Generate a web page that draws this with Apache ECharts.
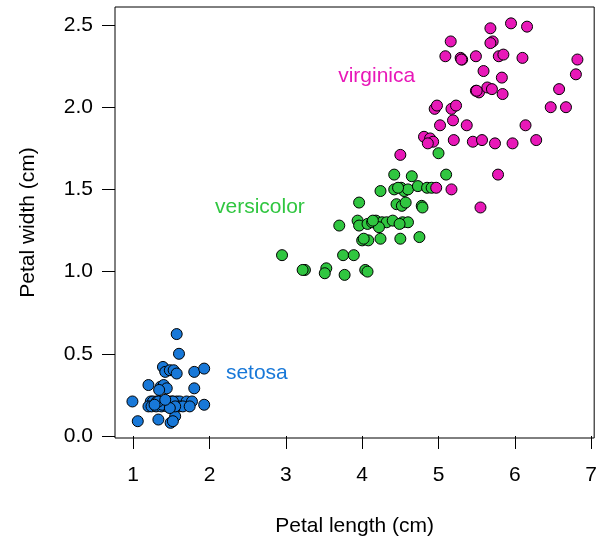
<!DOCTYPE html>
<html>
<head>
<meta charset="utf-8">
<title>Iris petal dimensions</title>
<script src="https://cdn.jsdelivr.net/npm/echarts@6/dist/echarts.min.js"></script>
<style>
  html, body { margin: 0; padding: 0; background: #fff; }
  #chart { width: 600px; height: 543px; }
</style>
</head>
<body>
<div id="chart"></div>
<script>
// Petal length / width (cm), jittered so that repeated measurements stay visible
const setosaLength = [1.57, 1.60, 1.39, 1.42, 1.48, 1.53, 1.57, 1.80, 1.93, 1.20, 1.36, 1.40, 1.44, 1.34, 1.80, 0.99,
  1.23, 1.26, 1.31, 1.36, 1.41, 1.47, 1.51, 1.57, 1.61, 1.70, 1.77,
  1.20, 1.24, 1.30, 1.37, 1.44, 1.50, 1.60, 1.65, 1.74,
  1.93, 1.06, 1.33, 1.55, 1.49, 1.52,
  1.45, 1.38, 1.52, 1.55, 1.33, 1.48, 1.42, 1.28];
const setosaWidth = [0.62, 0.50, 0.42, 0.39, 0.40, 0.40, 0.38, 0.39, 0.41, 0.31, 0.30, 0.31, 0.29, 0.28, 0.29, 0.21,
  0.21, 0.21, 0.21, 0.21, 0.21, 0.21, 0.21, 0.21, 0.21, 0.21, 0.21,
  0.18, 0.18, 0.18, 0.18, 0.18, 0.18, 0.18, 0.18, 0.18,
  0.19, 0.09, 0.10, 0.12, 0.08, 0.09,
  0.20, 0.19, 0.21, 0.18, 0.21, 0.17, 0.22, 0.19];

const versicolorLength = [4.42, 4.65, 5.10, 4.24, 4.42, 4.51, 4.55, 4.60, 4.73, 4.85, 4.91,
  3.96, 4.45, 4.52, 4.57, 4.78, 4.79,
  3.70, 3.94, 3.96, 4.07, 4.13, 4.18, 4.21, 4.26, 4.32, 4.40, 4.53, 4.60, 4.22,
  4.00, 4.08, 4.24, 4.50, 4.75,
  2.95, 3.75, 3.89,
  3.25, 3.22, 3.53, 3.51, 3.77, 4.04, 4.07,
  5.00, 4.47, 4.14, 4.49, 4.02];
const versicolorWidth = [1.59, 1.58, 1.59, 1.49, 1.50, 1.51, 1.49, 1.50, 1.52, 1.51, 1.51,
  1.42, 1.41, 1.40, 1.42, 1.40, 1.39,
  1.28, 1.31, 1.28, 1.29, 1.30, 1.31, 1.29, 1.30, 1.30, 1.31, 1.30, 1.30, 1.27,
  1.19, 1.19, 1.20, 1.20, 1.21,
  1.10, 1.10, 1.10,
  1.01, 1.01, 1.02, 0.99, 0.98, 1.01, 1.00,
  1.72, 1.51, 1.31, 1.29, 1.20];

const virginicaLength = [5.68, 5.95, 6.16, 5.16, 5.71, 5.68, 5.09, 5.29, 5.31, 5.49, 5.79, 5.85, 6.10, 6.82,
  5.59, 5.83, 6.80, 5.49, 5.53, 5.64, 5.70, 5.84, 6.58,
  4.95, 4.98, 5.17, 5.23, 6.47, 6.67,
  5.02, 5.19, 5.37, 6.14,
  4.81, 4.89, 4.93, 4.86, 5.20, 5.45, 5.57, 5.74, 5.97, 6.28,
  4.50, 5.78, 4.97, 5.17, 5.55, 5.50, 5.30];
const virginicaWidth = [2.48, 2.51, 2.49, 2.40, 2.40, 2.39, 2.31, 2.30, 2.29, 2.31, 2.31, 2.32, 2.30, 2.29,
  2.22, 2.18, 2.20, 2.10, 2.09, 2.12, 2.11, 2.08, 2.11,
  1.99, 2.01, 1.99, 2.01, 2.00, 2.00,
  1.89, 1.92, 1.89, 1.89,
  1.82, 1.81, 1.79, 1.78, 1.80, 1.79, 1.80, 1.78, 1.78, 1.80,
  1.71, 1.59, 1.51, 1.50, 1.39, 2.10, 2.29];

const xTicks = [1, 2, 3, 4, 5, 6, 7];
const yTicks = [0, 0.5, 1, 1.5, 2, 2.5];

// Species names written inside the plot, with their anchor positions in data units
const speciesNames = ['setosa', 'versicolor', 'virginica'];
const nameX = [2.62, 2.66, 4.19];
const nameY = [0.38, 1.39, 2.19];

const colors = ['#1878d8', '#30c640', '#e818b8'];
const FONT = '"Liberation Sans", Arial, Helvetica, sans-serif';

function zip(xs, ys) { return xs.map((x, i) => [x, ys[i]]); }

const pointStyle = (color) => ({
  color: color,
  opacity: 1,
  borderColor: '#000',
  borderWidth: 1
});

const chart = echarts.init(document.getElementById('chart'), null, { renderer: 'canvas' });

chart.setOption({
  animation: false,
  backgroundColor: '#fff',
  textStyle: { fontFamily: FONT },
  grid: {
    left: 115, right: 3, top: 7, bottom: 105,
    show: true, borderColor: '#000', borderWidth: 1, backgroundColor: 'transparent'
  },
  xAxis: {
    type: 'value',
    min: 0.7617, max: 7.0395,
    name: 'Petal length (cm)',
    nameLocation: 'middle',
    nameGap: 78,
    nameTextStyle: { fontSize: 21, color: '#000', fontFamily: FONT },
    axisLine: { show: false },
    splitLine: { show: false },
    axisTick: { show: true, inside: false, length: 13, customValues: xTicks, lineStyle: { color: '#000', width: 1 } },
    axisLabel: { show: true, margin: 27, customValues: xTicks, fontSize: 21, color: '#000', fontFamily: FONT,
      formatter: (v) => String(v) }
  },
  yAxis: {
    type: 'value',
    min: -0.0122, max: 2.6095,
    name: 'Petal width (cm)',
    nameLocation: 'middle',
    nameGap: 76,
    nameRotate: 90,
    nameTextStyle: { fontSize: 21, color: '#000', fontFamily: FONT },
    axisLine: { show: false },
    splitLine: { show: false },
    axisTick: { show: true, inside: false, length: 13, customValues: yTicks, lineStyle: { color: '#000', width: 1 } },
    axisLabel: { show: true, margin: 22, customValues: yTicks, fontSize: 21, color: '#000', fontFamily: FONT,
      formatter: (v) => v.toFixed(1) }
  },
  series: [
    {
      name: 'setosa', type: 'scatter', symbol: 'circle', symbolSize: 11,
      itemStyle: pointStyle(colors[0]),
      data: zip(setosaLength, setosaWidth)
    },
    {
      name: 'versicolor', type: 'scatter', symbol: 'circle', symbolSize: 11,
      itemStyle: pointStyle(colors[1]),
      data: zip(versicolorLength, versicolorWidth)
    },
    {
      name: 'virginica', type: 'scatter', symbol: 'circle', symbolSize: 11,
      itemStyle: pointStyle(colors[2]),
      data: zip(virginicaLength, virginicaWidth)
    },
    {
      name: 'species names', type: 'scatter', symbolSize: 0, silent: true,
      itemStyle: { opacity: 1 },
      data: speciesNames.map((n, i) => ({
        name: n,
        value: [nameX[i], nameY[i]],
        label: {
          show: true, position: 'inside', formatter: n,
          fontSize: 21, color: colors[i], fontFamily: FONT
        }
      }))
    }
  ]
});
</script>
</body>
</html>
